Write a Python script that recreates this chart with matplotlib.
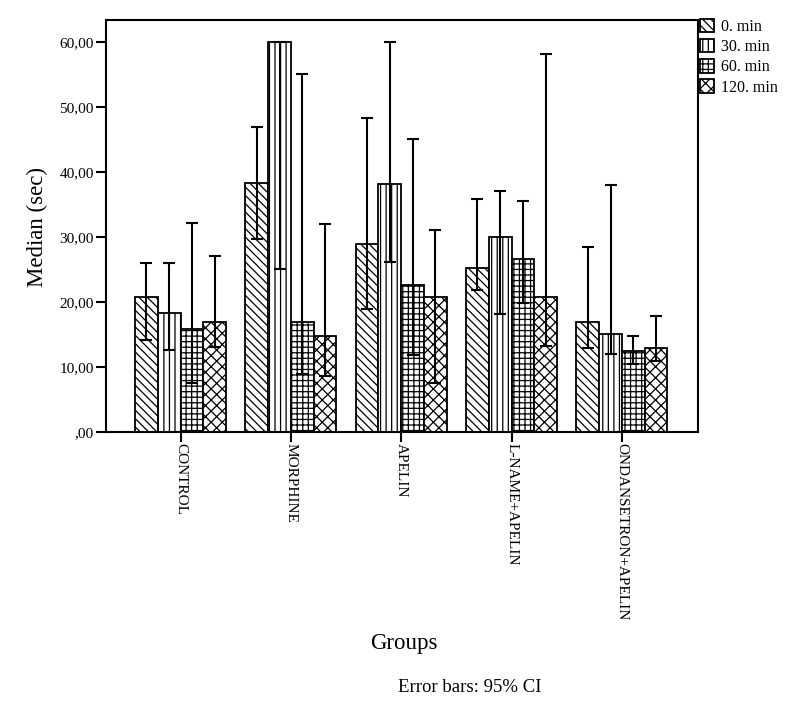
import numpy as np
import matplotlib
matplotlib.use("Agg")
import matplotlib.pyplot as plt
from matplotlib.ticker import FuncFormatter

plt.rcParams['font.family'] = ['Liberation Serif', 'DejaVu Serif']
plt.rcParams['hatch.linewidth'] = 0.9

# Groups and time points
groups = ["CONTROL", "MORPHINE", "APELIN", "L-NAME+APELIN", "ONDANSETRON+APELIN"]
times = ["0. min", "30. min", "60. min", "120. min"]

# Median values (sec), rows = time, cols = group
medians = [
    [20.8, 38.3, 29.0, 25.3, 16.9],
    [18.3, 60.0, 38.2, 30.0, 15.1],
    [15.8, 17.0, 22.7, 26.7, 12.5],
    [17.0, 14.8, 20.8, 20.8, 13.0],
]
# 95% CI bounds
ci_low = [
    [14.1, 29.7, 19.0, 21.9, 13.0],
    [12.6, 25.1, 26.1, 18.2, 12.0],
    [7.6, 9.0, 11.9, 19.9, 10.4],
    [13.1, 8.7, 7.6, 13.3, 11.0],
]
ci_high = [
    [26.0, 47.0, 48.4, 35.8, 28.5],
    [26.0, 60.0, 60.0, 37.1, 38.1],
    [32.2, 55.1, 45.1, 35.5, 14.8],
    [27.1, 32.0, 31.1, 58.2, 17.9],
]
hatches = ['\\\\\\\\', '|||', '+++', 'xxx']

fig = plt.figure(figsize=(8, 7.08), dpi=100)
ax = fig.add_axes([0.133, 0.3898, 0.739, 0.5826])

x = np.arange(len(groups))
w = 0.206
for i, t in enumerate(times):
    pos = x + (i - 1.5) * w
    med = np.array(medians[i])
    lo = med - np.array(ci_low[i])
    hi = np.array(ci_high[i]) - med
    ax.bar(pos, med, width=w, color='white', edgecolor='black',
           hatch=hatches[i], linewidth=1.3, label=t, zorder=2)
    ax.errorbar(pos, med, yerr=[lo, hi], fmt='none', ecolor='black',
                elinewidth=1.5, capsize=4.5, capthick=1.5, zorder=3)

ax.set_xlim(-0.672, 4.686)
ax.set_ylim(0, 63.5)
ax.set_yticks([0, 10, 20, 30, 40, 50, 60])
ax.yaxis.set_major_formatter(FuncFormatter(
    lambda v, p: ",00" if v == 0 else f"{v:.2f}".replace(".", ",")))
ax.set_xticks(x)
ax.set_xticklabels(groups, rotation=270, fontsize=11, va='top', ha='center')
ax.tick_params(axis='y', labelsize=11, length=7, width=1.5, pad=2)
ax.tick_params(axis='x', length=7, width=1.5, pad=1)
for s in ax.spines.values():
    s.set_linewidth(1.5)

fig.text(0.047, 0.68, "Median (sec)", rotation=90, fontsize=16.5,
         ha='center', va='center')
fig.text(0.505, 1 - 643 / 708, "Groups", fontsize=16.5, ha='center', va='center')
fig.text(0.587, 1 - 688 / 708, "Error bars: 95% CI", fontsize=13.5,
         ha='center', va='center')

fig.legend(loc='upper left', bbox_to_anchor=(700 / 800, 1 - 19 / 708),
           frameon=False, fontsize=11.5, handlelength=0.9, handleheight=0.9,
           handletextpad=0.4, labelspacing=0.25, borderaxespad=0, borderpad=0)

fig.savefig("out.png", dpi=100)
